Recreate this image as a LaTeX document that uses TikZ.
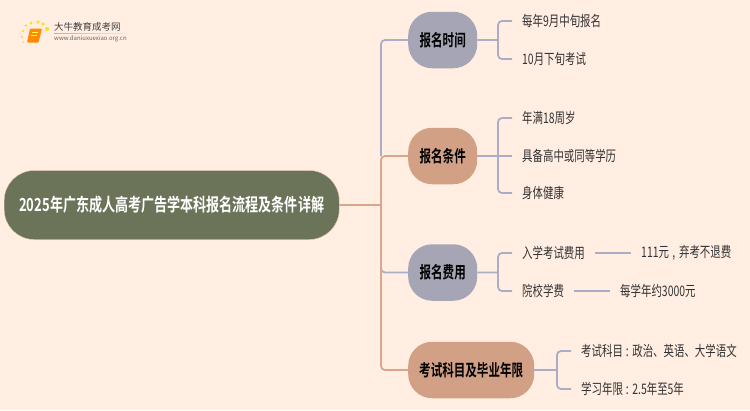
\documentclass[tikz,border=0pt]{standalone}
\usepackage{fontspec}
\setmainfont{Noto Sans CJK SC}
\newfontfamily\leaffont[FakeStretch=0.72]{Noto Sans CJK SC}
\newfontfamily\boldfont[FakeStretch=0.70]{Noto Sans CJK SC Bold}
\newfontfamily\rootfont[FakeStretch=0.725]{Noto Sans CJK SC Bold}
\definecolor{bgc}{HTML}{FFEEE1}
\definecolor{rootc}{HTML}{6B7358}
\definecolor{greyc}{HTML}{A5A5B5}
\definecolor{tanc}{HTML}{D2A085}
\definecolor{linea}{HTML}{A9ADC6}
\definecolor{lineo}{HTML}{DBA68A}
\definecolor{txtc}{HTML}{333333}
\tikzset{
 x=1pt,y=-1pt,
 rootbox/.style={draw=tanc!50!bgc,line width=0.4pt,fill=rootc,rounded corners=30pt,text=white,font=\rootfont\fontsize{18}{20}\selectfont,inner sep=0pt,minimum height=69pt,minimum width=335pt,anchor=west},
 greybox/.style={fill=greyc,rounded corners=24pt,text=black,font=\boldfont\fontsize{16.5}{18}\selectfont,inner sep=0pt,minimum height=56.5pt,minimum width=69pt,anchor=west},
 tanbox/.style={greybox,fill=tanc},
 leaf/.style={text=txtc,font=\leaffont\fontsize{14.5}{16}\selectfont,inner xsep=10pt,inner ysep=0pt,anchor=west},
 blueline/.style={draw=linea,line width=1.8pt,rounded corners=4pt},
 orangeline/.style={draw=lineo,line width=1.8pt,rounded corners=4pt},
}
\begin{document}
\begin{tikzpicture}
\useasboundingbox (0,0) rectangle (750,410);
\fill[bgc] (0,0) rectangle (750,410);
% logo
\fill[yellow!80!orange!80!bgc] (26,25.7) circle (1.5) (31,23) circle (1.7) (38,22) circle (1.8) (43,24) circle (1.8) (47,29) circle (2.2) (23,31) circle (1.3) (22,37) circle (1.1) (23.5,42) circle (0.9);
\fill[orange!90!yellow,rounded corners=1pt] (30,28.5) -- (42,28.5) -- (38.5,42.5) -- (27,42.5) -- cycle;
\draw[yellow!70!white,line width=0.6pt] (32,32) -- (37.5,32) (31.3,35) -- (36.8,35);
\node[inner sep=0pt,anchor=west,text=black!75,font=\fontsize{9.5}{10}\selectfont] (logotext) at (54,27) {大牛教育成考网};
\fill[left color=black!30,right color=bgc] (54,33) rectangle (133,33.7);
\node[inner sep=0pt,anchor=west,text=black!60,font=\fontsize{6}{7}\selectfont] (logourl) at (54,39) {www.daniuxuexiao.org.cn};
% nodes
\node[rootbox] (root) at (4,205) {2025年广东成人高考广告学本科报名流程及条件详解};
\node[greybox] (n1) at (408,40) {报名时间};
\node[tanbox] (n2) at (408,156) {报名条件};
\node[greybox] (n3) at (408,272.5) {报名费用};
\node[tanbox,minimum width=126pt] (n4) at (408,370) {考试科目及毕业年限};
\node[leaf] (a1) at (512,21) {每年9月中旬报名};
\node[leaf] (a2) at (512,59) {10月下旬考试};
\node[leaf] (b1) at (512,118) {年满18周岁};
\node[leaf] (b2) at (512,156) {具备高中或同等学历};
\node[leaf] (b3) at (512,193) {身体健康};
\node[leaf] (c1) at (512,253) {入学考试费用};
\node[leaf] (c2) at (512,291) {院校学费};
\node[leaf] (c1x) at (631,253) {111元\hspace{1pt} , \hspace{1.5pt}弃考不退费};
\node[leaf] (c2x) at (610,291) {每学年约3000元};
\node[leaf] (d1) at (571,351) {考试科目\hspace{0.5pt} : \hspace{0.5pt}政治、英语、大学语文};
\node[leaf] (d2) at (571,389) {学习年限\hspace{0.5pt} : \hspace{0.5pt}2.5年至5年};
% trunk coordinates
\coordinate (tx) at (381,205);
% main connectors
\draw[blueline] (tx |- n2.west) -- (tx |- n1.west) -- (n1.west);
\draw[blueline] (tx |- 0,260) -- (tx |- n3.west) -- (n3.west);
\draw[orangeline] (root.east) -- (tx);
\draw[orangeline] (tx) -- (tx |- n2.west) -- (n2.west);
\draw[orangeline] (tx) -- (tx |- n4.west) -- (n4.west);
% forks
\foreach \s/\a/\b in {n1/a1/a2,n3/c1/c2}{
 \draw[blueline] (\s.east) -- (498,0 |- \s.east) (\a.west) -- (498,0 |- \a.west) -- (498,0 |- \b.west) -- (\b.west);
}
\draw[blueline] (n2.east) -- (b2.west);
\draw[blueline] (b1.west) -- (498,118) -- (498,193) -- (b3.west);
\draw[blueline] (n4.east) -- (557,370);
\draw[blueline] (d1.west) -- (557,351) -- (557,389) -- (d2.west);
\draw[blueline] (c1.east) -- (c1x.west);
\draw[blueline] (c2.east) -- (c2x.west);
\end{tikzpicture}
\end{document}
